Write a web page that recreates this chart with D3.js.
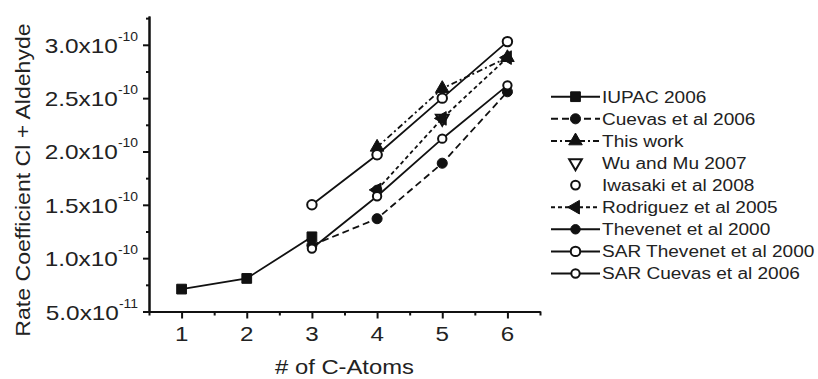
<!DOCTYPE html>
<html>
<head>
<meta charset="utf-8">
<script src="https://cdn.jsdelivr.net/npm/d3@7"></script>
<style>
  html, body { margin: 0; padding: 0; background: #fff; }
  svg { display: block; }
</style>
</head>
<body>
<svg id="chart"></svg>
<script>
// rate coefficients, cm3 molecule-1 s-1, vs number of C atoms
const iupacN = [1, 2, 3];
const iupacK = [0.71e-10, 0.81e-10, 1.20e-10];
const cuevasN = [3, 4, 5, 6];
const cuevasK = [1.12e-10, 1.37e-10, 1.89e-10, 2.56e-10];
const thisWorkN = [4, 5, 6];
const thisWorkK = [2.04e-10, 2.59e-10, 2.88e-10];
const wuMuN = [5];
const wuMuK = [2.31e-10];
const iwasakiN = [4];
const iwasakiK = [1.97e-10];
const rodriguezN = [4, 5, 6];
const rodriguezK = [1.64e-10, 2.31e-10, 2.88e-10];
const thevenetN = [4];
const thevenetK = [1.64e-10];
const sarThevenetN = [3, 4, 5, 6];
const sarThevenetK = [1.50e-10, 1.97e-10, 2.50e-10, 3.03e-10];
const sarCuevasN = [3, 4, 5, 6];
const sarCuevasK = [1.09e-10, 1.58e-10, 2.12e-10, 2.62e-10];

const xTicks = [1, 2, 3, 4, 5, 6];
const xMinor = [0.5, 1.5, 2.5, 3.5, 4.5, 5.5, 6.5];
const yTicks = [0.5e-10, 1.0e-10, 1.5e-10, 2.0e-10, 2.5e-10, 3.0e-10];
const yMinor = [0.75e-10, 1.25e-10, 1.75e-10, 2.25e-10, 2.75e-10, 3.25e-10];

const seriesNames = ["IUPAC 2006", "Cuevas et al 2006", "This work", "Wu and Mu 2007",
  "Iwasaki et al 2008", "Rodriguez et al 2005", "Thevenet et al 2000",
  "SAR Thevenet et al 2000", "SAR Cuevas et al 2006"];

const width = 818, height = 379;
const INK = "#111";
const TXT = "#222";
const FONT = "'Liberation Sans', Arial, Helvetica, sans-serif";

const zip = (n, k) => n.map((d, i) => ({n: d, k: k[i]}));

// style of each series (line dash, marker)
const series = [
  {pts: zip(iupacN, iupacK), line: true, dash: null, sym: d3.symbolSquare, size: 95, fill: INK, rot: 0},
  {pts: zip(cuevasN, cuevasK), line: true, dash: "7,4", sym: d3.symbolCircle, size: 80, fill: INK, rot: 0},
  {pts: zip(thisWorkN, thisWorkK), line: true, dash: "6,3,2,3", sym: d3.symbolTriangle, size: 80, fill: INK, rot: 0},
  {pts: zip(wuMuN, wuMuK), line: false, dash: null, sym: d3.symbolTriangle, size: 70, fill: "#fff", rot: 180},
  {pts: zip(iwasakiN, iwasakiK), line: false, dash: null, sym: d3.symbolCircle, size: 60, fill: "#fff", rot: 0},
  {pts: zip(rodriguezN, rodriguezK), line: true, dash: "4,3", sym: d3.symbolTriangle, size: 80, fill: INK, rot: -90},
  {pts: zip(thevenetN, thevenetK), line: true, dash: null, sym: d3.symbolCircle, size: 70, fill: INK, rot: 0},
  {pts: zip(sarThevenetN, sarThevenetK), line: true, dash: null, sym: d3.symbolCircle, size: 70, fill: "#fff", rot: 0},
  {pts: zip(sarCuevasN, sarCuevasK), line: true, dash: null, sym: d3.symbolCircle, size: 55, fill: "#fff", rot: 0}
];
series.forEach((s, i) => s.name = seriesNames[i]);

const svg = d3.select("#chart")
  .attr("width", width)
  .attr("height", height)
  .style("font-family", FONT);

const x = d3.scaleLinear().domain([0.5, 6.5]).range([149, 540]);
const y = d3.scaleLinear().domain([0.5e-10, 3.27e-10]).range([311.5, 16]);

// text drawn a bit wider than the font, like the original
function stretchText(g, str, px, py, size, sx, anchor, rot) {
  return g.append("text")
    .attr("transform", `translate(${px},${py})` + (rot ? ` rotate(${rot})` : "") + ` scale(${sx},1)`)
    .attr("text-anchor", anchor)
    .attr("font-size", size)
    .attr("fill", TXT)
    .text(str);
}

// axes
const axisStyle = g => {
  g.selectAll("path, line").attr("stroke", INK).attr("stroke-width", 2);
  g.selectAll("text").remove();
};

svg.append("g")
  .attr("transform", "translate(149,0)")
  .call(d3.axisLeft(y).tickValues(yTicks).tickSize(6).tickSizeOuter(0))
  .call(axisStyle);
svg.append("g")
  .attr("transform", "translate(149,0)")
  .call(d3.axisLeft(y).tickValues(yMinor).tickSize(3).tickSizeOuter(0))
  .call(axisStyle);
svg.append("g")
  .attr("transform", "translate(0,311.5)")
  .call(d3.axisBottom(x).tickValues(xTicks).tickSize(7).tickSizeOuter(0))
  .call(axisStyle);
svg.append("g")
  .attr("transform", "translate(0,311.5)")
  .call(d3.axisBottom(x).tickValues(xMinor).tickSize(4).tickSizeOuter(0))
  .call(axisStyle);

// y tick labels like 3.0x10^-10
const sci = d3.format(".1e");
yTicks.forEach(v => {
  const [mant, ex] = sci(v).split("e");
  const t = stretchText(svg, null, 138, y(v) + 8, 21, 1.16, "end");
  t.append("tspan").text(mant + "x10");
  t.append("tspan").attr("font-size", 12).attr("dy", -12).text(ex.replace("+", ""));
});

xTicks.forEach(n => stretchText(svg, String(n), x(n), 341, 21, 1.15, "middle"));

stretchText(svg, "# of C-Atoms", 344.5, 374, 20, 1.19, "middle");
stretchText(svg, "Rate Coefficient Cl + Aldehyde", 29.5, 180, 21, 1.1, "middle", -90);

// lines
const line = d3.line().x(d => x(d.n)).y(d => y(d.k));
const plot = svg.append("g");
series.filter(s => s.line).forEach(s => {
  plot.append("path")
    .attr("d", line(s.pts))
    .attr("fill", "none")
    .attr("stroke", INK)
    .attr("stroke-width", 1.8)
    .attr("stroke-dasharray", s.dash);
});

// markers
function marker(g, s, cx, cy) {
  g.append("path")
    .attr("d", d3.symbol(s.sym, s.size)())
    .attr("transform", `translate(${cx},${cy}) rotate(${s.rot})`)
    .attr("fill", s.fill)
    .attr("stroke", INK)
    .attr("stroke-width", s.fill === INK ? 1 : 2);
}
series.forEach(s => s.pts.forEach(d => marker(plot, s, x(d.n), y(d.k))));

// legend
const legend = svg.append("g");
series.forEach((s, i) => {
  const ry = 96.7 + i * 22.1;
  if (s.line) {
    legend.append("line")
      .attr("x1", 551).attr("x2", 600)
      .attr("y1", ry).attr("y2", ry)
      .attr("stroke", INK)
      .attr("stroke-width", 2)
      .attr("stroke-dasharray", s.dash);
  }
  marker(legend, s, 575.5, ry);
  stretchText(legend, s.name, 602, ry + 5.8, 16, 1.19, "start");
});
</script>
</body>
</html>
